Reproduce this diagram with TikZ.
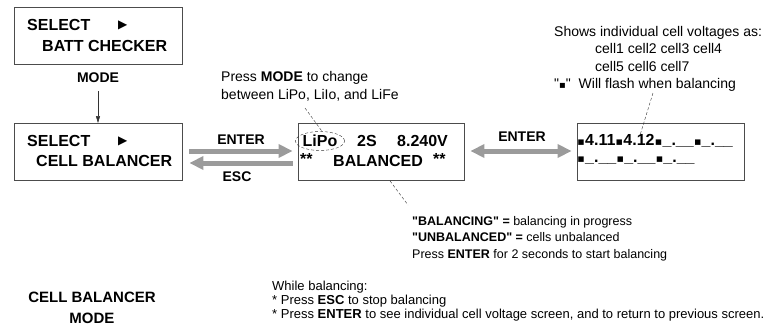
\documentclass[tikz,border=0pt]{standalone}
\usepackage{fontspec}
\setmainfont{Liberation Sans}[Ligatures=TeXOff]
\newfontfamily\symfont{DejaVu Sans}
\usetikzlibrary{arrows.meta,shapes.geometric}
\definecolor{padgray}{RGB}{155,155,155}
\newcommand{\playsym}{{\symfont\fontsize{12}{12}\selectfont ▶}}
\newcommand{\segdot}{\makebox[8pt]{\symfont\fontsize{11}{11}\selectfont ▪}}
\newcommand{\flashsym}{{\symfont\fontsize{10}{10}\selectfont ▪}}
\tikzset{
  screen/.style={draw=black!70, line width=0.8pt, minimum width=168pt, minimum height=57pt, inner sep=0pt},
  lcd/.style={font=\fontsize{16}{18}\selectfont\bfseries, inner sep=0pt, anchor=west},
  keylbl/.style={font=\fontsize{14}{16}\selectfont\bfseries, inner sep=0pt},
  note/.style={font=\fontsize{14}{17.5}\selectfont, inner sep=0pt, anchor=west, align=left},
  padarrow/.style={draw=padgray, line width=5pt, -{Triangle[length=14pt,width=13pt]}},
  padboth/.style={draw=padgray, line width=5pt, {Triangle[length=14pt,width=13pt]}-{Triangle[length=14pt,width=13pt]}},
  modearrow/.style={draw=black!80, line width=0.5pt, -{Triangle[length=7pt,width=4pt]}},
  callout/.style={draw=black!80, line width=0.4pt, dash pattern=on 3pt off 2pt},
}
\begin{document}
\begin{tikzpicture}[x=1pt,y=-1pt]
    \useasboundingbox (0,0) rectangle (771,327);

    % Screens
    \node[screen] (batt) at (98,35.5) {};
    \node[screen] (cellbal) at (98,152) {};
    \node[screen, minimum width=166pt] (bal) at (381,152) {};
    \node[screen, minimum width=167pt] (cells) at (660.5,152) {};

    % Screen texts
    \node[lcd] (battsel) at (27,25) {SELECT};
    \node[lcd] at (118,25) {\playsym};
    \node[lcd] (battname) at (42,46) {BATT CHECKER};

    \node[lcd] (cellsel) at (27,141) {SELECT};
    \node[lcd] at (118,141) {\playsym};
    \node[lcd] (cellname) at (36,161) {CELL BALANCER};

    \node[ellipse, draw=black!80, line width=0.4pt, dash pattern=on 3pt off 2pt,
          inner sep=0pt, minimum width=45pt, minimum height=19pt,
          font=\fontsize{16}{18}\selectfont\bfseries] (lipo) at (320,141) {LiPo};
    \node[lcd] (series) at (357,141) {2S};
    \node[lcd] (volt) at (397,141) {8.240V};
    \node[lcd] (starl) at (300,159) {**};
    \node[lcd] (state) at (333,161) {BALANCED};
    \node[lcd] (starr) at (433,159) {**};

    \node[lcd] (rowa) at (577,141) {\segdot4.11\segdot4.12\segdot\_.\_\_\segdot\_.\_\_};
    \node[lcd] (rowb) at (577,161) {\segdot\_.\_\_\segdot\_.\_\_\segdot\_.\_\_};

    % Keys
    \node[keylbl] (modekey) at (98,78) {MODE};
    \draw[modearrow, shorten <=8pt] (modekey) -- (cellbal);

    \node[keylbl] (enterkey) at (241,140) {ENTER};
    \node[keylbl] (esckey) at (237,177) {ESC};
    \draw[padarrow] ([xshift=7pt,yshift=1pt]cellbal.east) -- ([xshift=-5pt,yshift=1pt]bal.west);
    \draw[padarrow] ([xshift=-5pt,yshift=-11pt]bal.west) -- ([xshift=7pt,yshift=-11pt]cellbal.east);

    \node[keylbl] (enterkey2) at (522,137) {ENTER};
    \draw[padboth] ([xshift=6pt,yshift=1pt]bal.east) -- ([xshift=-5pt,yshift=1pt]cells.west);

    % Notes
    \node[note] (modenote) at (221,86.5) {Press \textbf{MODE} to change\\between LiPo, LiIo, and LiFe};
    \coordinate (modetip) at (305,108);
    \draw[callout] (modetip) -- ([xshift=2pt]lipo.north);

    \node[note] (cellnote) at (554,59) {Shows individual cell voltages as:\\
        \hspace*{41pt}cell1 cell2 cell3 cell4\\
        \hspace*{41pt}cell5 cell6 cell7\\
        "\flashsym"\ \ Will flash when balancing};
    \coordinate (celltip) at (653,93);
    \draw[callout] (celltip) -- ([xshift=63pt,yshift=-1pt]rowa.north west);

    \node[note, font=\fontsize{12.5}{16.5}\selectfont] (balnote) at (412,238.5)
        {\textbf{"BALANCING" =} balancing in progress\\
         \textbf{"UNBALANCED" =} cells unbalanced\\
         Press \textbf{ENTER} for 2 seconds to start balancing};
    \coordinate (baltip) at (408,205);
    \draw[callout] ([xshift=9pt]bal.south) -- (baltip);

    % Mode title and hints
    \node[keylbl, font=\fontsize{15}{21}\selectfont\bfseries, align=center] (modetitle) at (92,308)
        {CELL BALANCER\\MODE};
    \node[note, font=\fontsize{13}{14}\selectfont] (hints) at (272,301)
        {While balancing:\\
         * Press \textbf{ESC} to stop balancing\\
         * Press \textbf{ENTER} to see individual cell voltage screen, and to return to previous screen.};
\end{tikzpicture}
\end{document}
